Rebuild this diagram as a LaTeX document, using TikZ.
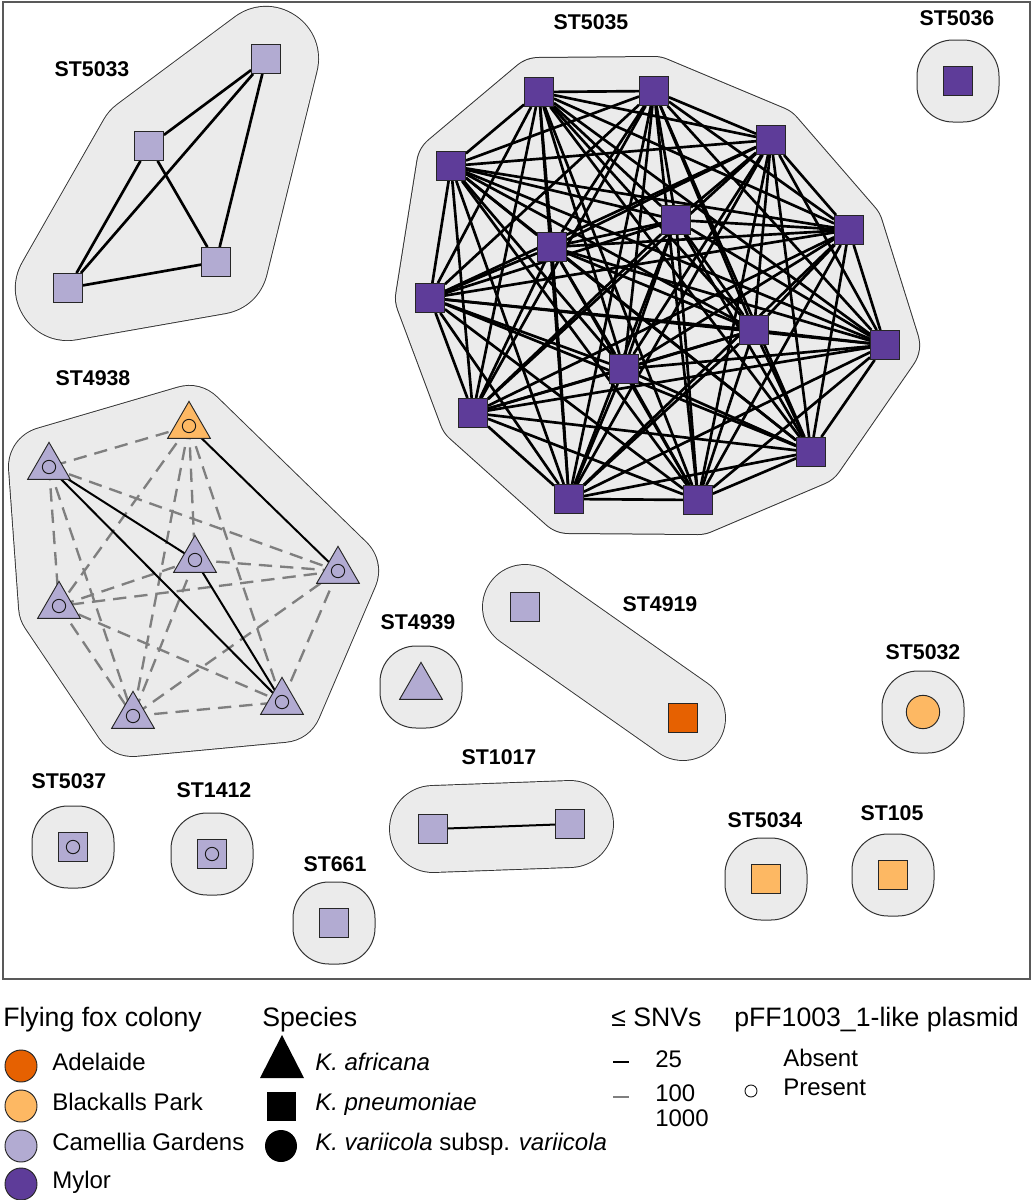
\documentclass[tikz,border=0pt]{standalone}
\usepackage{fontspec}
\setmainfont{Liberation Sans}
\usetikzlibrary{shapes.geometric}
\definecolor{adel}{HTML}{E66101}
\definecolor{blak}{HTML}{FDB863}
\definecolor{cam}{HTML}{B2ABD2}
\definecolor{myl}{HTML}{5E3C99}
\definecolor{hullfill}{HTML}{EBEBEB}
\definecolor{hullline}{HTML}{333333}
\definecolor{dashgray}{HTML}{7F7F7F}
\pgfdeclarelayer{bg}
\pgfdeclarelayer{hull}
\pgfdeclarelayer{edge}
\pgfsetlayers{bg,hull,edge,main}
\newcommand{\hullpath}[3]{%
  \draw[line width=#2, hullline, line join=round, line cap=round] #3;
  \draw[line width=#1, hullfill, line join=round, line cap=round] #3;
  \fill[hullfill] #3;}
\newcommand{\singlehull}[1]{%
  \draw[hullline, fill=hullfill, line width=0.75pt, rounded corners=27pt] (#1) ++(-41,-41) rectangle ++(82,82);}
\begin{document}
\begin{tikzpicture}[x=0.75pt,y=-0.75pt,
  sq/.style={rectangle, draw=black!85, line width=0.7pt, minimum size=21.75pt, inner sep=0pt},
  tri/.style={regular polygon, regular polygon sides=3, draw=black!85, line width=0.7pt, minimum size=37pt, inner sep=0pt},
  dot/.style={circle, draw=black!85, line width=0.7pt, minimum size=25pt, inner sep=0pt},
  plas/.style={circle, draw=black!90, line width=0.7pt, minimum size=10pt, inner sep=0pt},
  stlab/.style={font=\fontsize{16}{18}\selectfont\bfseries, inner sep=0pt, text height=0.716em, text depth=0pt},
  legtitle/.style={font=\fontsize{20}{22}\selectfont, inner sep=0pt, anchor=west, text height=0.716em, text depth=0pt},
  legitem/.style={font=\fontsize{18}{20}\selectfont, inner sep=0pt, anchor=west, text height=0.716em, text depth=0pt},
  strongA/.style={line width=2pt, black},
  strongB/.style={line width=1.5pt, black},
  weak/.style={line width=1.75pt, dashgray, dash pattern=on 10pt off 6pt}]
\useasboundingbox (0,0) rectangle (1033,1200);
\begin{pgfonlayer}{bg}
\fill[white] (0,0) rectangle (1033,1200);
\end{pgfonlayer}
\draw[line width=0.8pt, black!65] (3,2) rectangle (1030,979);

% ---------------- ST5035 (Mylor) ----------------
\foreach \n/\x/\y in {1/539/92, 2/654/91, 3/771/140, 4/451/166, 5/676/220, 6/849/230, 7/552/247, 8/430/298, 9/754/330, 10/885/345, 11/624/369, 12/473/413, 13/811/452, 14/569/499, 15/698/500}
  \node[sq, fill=myl] (m\n) at (\x,\y) {};
\begin{pgfonlayer}{hull}
\hullpath{51pt}{52.5pt}{(m1.center) -- (m2.center) -- (m3.center) -- (m6.center) -- (m10.center) -- (m13.center) -- (m15.center) -- (m14.center) -- (m12.center) -- (m8.center) -- (m4.center) -- cycle}
\end{pgfonlayer}
\begin{pgfonlayer}{edge}
\foreach \i in {1,...,14} {
  \pgfmathtruncatemacro{\k}{\i+1}
  \foreach \j in {\k,...,15} { \draw[strongA] (m\i) -- (m\j); }
}
\end{pgfonlayer}
\node[stlab] (l5035) at (591,25) {ST5035};

% ---------------- ST5036 ----------------
\node[sq, fill=myl] (u1) at (958,81) {};
\begin{pgfonlayer}{hull}\singlehull{u1.center}\end{pgfonlayer}
\node[stlab] (l5036) at (957,21) {ST5036};

% ---------------- ST5033 ----------------
\node[sq, fill=cam] (s1) at (266,59) {};
\node[sq, fill=cam] (s2) at (149,146) {};
\node[sq, fill=cam] (s3) at (216,262) {};
\node[sq, fill=cam] (s4) at (68,288) {};
\begin{pgfonlayer}{hull}
\hullpath{78pt}{79.4pt}{(s1.center) -- (s3.center) -- (s4.center) -- (s2.center) -- cycle}
\end{pgfonlayer}
\begin{pgfonlayer}{edge}
\draw[strongA] (s1) -- (s2); \draw[strongA] (s1) -- (s3); \draw[strongA] (s1) -- (s4);
\draw[strongA] (s2) -- (s3); \draw[strongA] (s2) -- (s4); \draw[strongA] (s3) -- (s4);
\end{pgfonlayer}
\node[stlab] (l5033) at (92,72) {ST5033};

% ---------------- ST4938 ----------------
\node[tri, fill=blak] (t1) at (189,426) {};
\node[tri, fill=cam] (t2) at (49,467) {};
\node[tri, fill=cam] (t3) at (195,560) {};
\node[tri, fill=cam] (t4) at (338,571) {};
\node[tri, fill=cam] (t5) at (59,606) {};
\node[tri, fill=cam] (t6) at (133,716) {};
\node[tri, fill=cam] (t7) at (282,702) {};
\foreach \n in {1,...,7} \node[plas] (pt\n) at (t\n.center) {};
\begin{pgfonlayer}{hull}
\hullpath{60pt}{61.4pt}{(t1.center) -- (t4.center) -- (t7.center) -- (t6.center) -- (t5.center) -- (t2.center) -- cycle}
\end{pgfonlayer}
\begin{pgfonlayer}{edge}
\foreach \a/\b in {1/2, 1/3, 1/5, 1/6, 1/7, 2/4, 2/5, 2/6, 3/4, 3/5, 3/6, 4/5, 4/6, 4/7, 5/6, 5/7, 6/7}
  \draw[weak] (t\a.center) -- (t\b.center);
\foreach \a/\b in {1/4, 2/3, 2/7, 3/7}
  \draw[strongB] (t\a.center) -- (t\b.center);
\end{pgfonlayer}
\node[stlab] (l4938) at (93,381) {ST4938};

% ---------------- ST4939 ----------------
\node[tri, fill=cam] (v1) at (421,687) {};
\begin{pgfonlayer}{hull}\singlehull{v1.center}\end{pgfonlayer}
\node[stlab] (l4939) at (418,625) {ST4939};

% ---------------- ST4919 ----------------
\node[sq, fill=cam] (w1) at (525,607) {};
\node[sq, fill=adel] (w2) at (683,718) {};
\begin{pgfonlayer}{hull}
\hullpath{63pt}{64.4pt}{(w1.center) -- (w2.center)}
\end{pgfonlayer}
\node[stlab] (l4919) at (660,607) {ST4919};

% ---------------- ST5032 ----------------
\node[dot, fill=blak] (c1) at (923,712) {};
\begin{pgfonlayer}{hull}\singlehull{c1.center}\end{pgfonlayer}
\node[stlab] (l5032) at (923,655) {ST5032};

% ---------------- ST1017 ----------------
\node[sq, fill=cam] (k1) at (433,829) {};
\node[sq, fill=cam] (k2) at (570,824) {};
\begin{pgfonlayer}{hull}
\hullpath{64.5pt}{65.9pt}{(k1.center) -- (k2.center)}
\end{pgfonlayer}
\begin{pgfonlayer}{edge}\draw[strongB] (k1) -- (k2);\end{pgfonlayer}
\node[stlab] (l1017) at (499,760) {ST1017};

% ---------------- singletons bottom ----------------
\node[sq, fill=cam] (a1) at (73,847) {};
\node[plas] (pa1) at (a1.center) {};
\begin{pgfonlayer}{hull}\singlehull{a1.center}\end{pgfonlayer}
\node[stlab] (l5037) at (69,784) {ST5037};

\node[sq, fill=cam] (b1) at (212,854) {};
\node[plas] (pb1) at (b1.center) {};
\begin{pgfonlayer}{hull}\singlehull{b1.center}\end{pgfonlayer}
\node[stlab] (l1412) at (214,793) {ST1412};

\node[sq, fill=cam] (d1) at (334,923) {};
\begin{pgfonlayer}{hull}\singlehull{d1.center}\end{pgfonlayer}
\node[stlab] (l661) at (335,867) {ST661};

\node[sq, fill=blak] (e1) at (766,879) {};
\begin{pgfonlayer}{hull}\singlehull{e1.center}\end{pgfonlayer}
\node[stlab] (l5034) at (765,823) {ST5034};

\node[sq, fill=blak] (f1) at (893,875) {};
\begin{pgfonlayer}{hull}\singlehull{f1.center}\end{pgfonlayer}
\node[stlab] (l105) at (892,816) {ST105};

% ---------------- Legend ----------------
\node[legtitle] (tcol) at (3,1022) {Flying fox colony};
\node[dot, fill=adel, minimum size=24pt] (ca) at (21,1066) {};
\node[dot, fill=blak, minimum size=24pt] (cb) at (21,1106) {};
\node[dot, fill=cam, minimum size=24pt] (cc) at (21,1146) {};
\node[dot, fill=myl, minimum size=24pt] (cd) at (21,1184) {};
\node[legitem] (la) at (52,1066) {Adelaide};
\node[legitem] (lb) at (52,1106) {Blackalls Park};
\node[legitem] (lc) at (52,1146) {Camellia Gardens};
\node[legitem] (ld) at (52,1184) {Mylor};

\node[legtitle] (tsp) at (262,1022) {Species};
\fill[black] (282,1035) -- (304,1078) -- (260,1078) -- cycle;
\fill[black] (267,1092) rectangle (296,1121);
\fill[black] (281,1146) circle (12pt);
\node[legitem] (sa) at (315,1066) {\itshape K. africana};
\node[legitem] (sb) at (315,1106) {\itshape K. pneumoniae};
\node[legitem] (sc) at (315,1146) {\textit{K. variicola} subsp. \textit{variicola}};

\node[legtitle] (tsnv) at (611,1022) {≤ SNVs};
\draw[line width=2.2pt, black] (613,1062) -- (629,1062);
\draw[line width=1.5pt, dashgray] (613,1097) -- (629,1097);
\node[legitem] (n25) at (655,1063) {25};
\node[legitem] (n100) at (655,1097) {100};
\node[legitem] (n1000) at (655,1122) {1000};

\node[legtitle] (tpl) at (734,1022) {pFF1003\_1-like plasmid};
\node[legitem] (pab) at (783,1062) {Absent};
\node[legitem] (ppr) at (783,1091) {Present};
\node[plas, minimum size=9pt] (pc) at (751,1091) {};
\end{tikzpicture}
\end{document}
